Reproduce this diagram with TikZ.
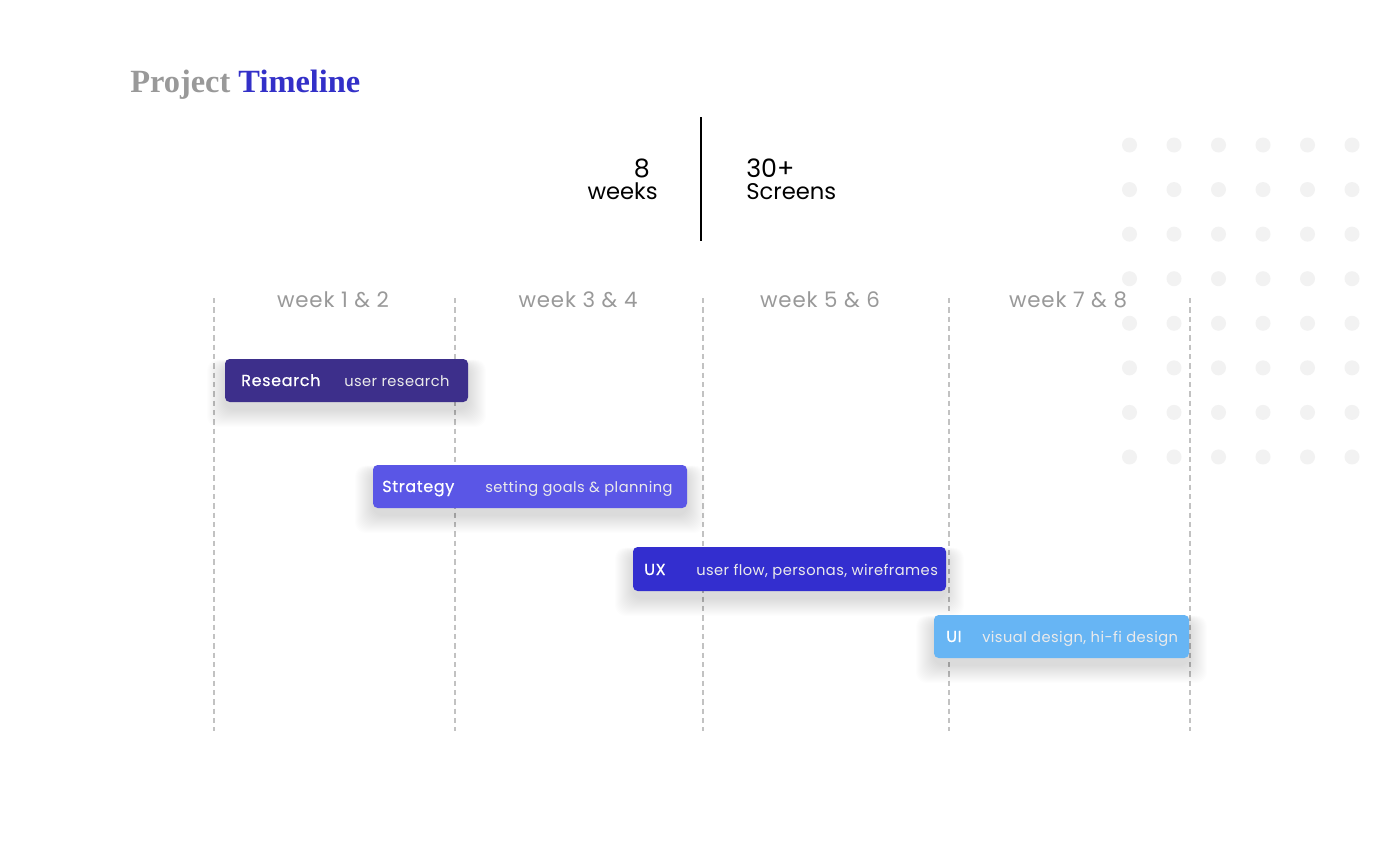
\documentclass[tikz,border=0pt]{standalone}
\usepackage{fontspec}
\setmainfont{Poppins}
\newfontfamily\titlefont{Liberation Serif}
\definecolor{research}{HTML}{3D2F8B}
\definecolor{strategy}{HTML}{5A56E6}
\definecolor{uxc}{HTML}{332ECF}
\definecolor{uic}{HTML}{67B5F4}
\definecolor{greylabel}{HTML}{999999}
\definecolor{dotc}{HTML}{F2F2F2}
\definecolor{dashc}{HTML}{C2C2C2}
\definecolor{titleblue}{HTML}{3330C8}
\newcommand{\tlshadow}[4]{%
  \foreach \k in {1,...,18}{%
    \fill[black,opacity=0.0085,rounded corners=8pt] (#1-\k,#2+6-0.3*\k) rectangle (#3+\k,#4+7+\k);
  }}
\tikzset{
  weekline/.style={draw=dashc,line width=2.1pt,dash pattern=on 4pt off 3pt},
  weeklabel/.style={anchor=base,inner sep=0pt,text=greylabel,font=\fontsize{16}{19}\selectfont\addfontfeatures{LetterSpace=4}},
  barbox/.style={rounded corners=3.5pt,draw=none},
  bartitle/.style={anchor=base west,inner sep=0pt,text=white,font=\fontsize{12}{14}\selectfont\addfontfeatures{LetterSpace=4,FakeBold=0.5}},
  bardesc/.style={anchor=base west,inner sep=0pt,text=white!92!black,font=\fontsize{11}{13}\selectfont\addfontfeatures{LetterSpace=3}},
  statnum/.style={inner sep=0pt,text depth=0pt,font=\fontsize{19}{22}\selectfont},
  stattxt/.style={inner sep=0pt,font=\fontsize{17}{20}\selectfont},
}
\begin{document}
\begin{tikzpicture}[x=0.75pt,y=-0.75pt]
\useasboundingbox[fill=white] (0,0) rectangle (1400,846);
% dot grid
\foreach \i in {0,...,5}{\foreach \j in {0,...,7}{%
  \fill[dotc] (1129.5+44.5*\i,145+44.57*\j) circle (7.5);}}
% title
\node[anchor=base west,inner sep=0pt,font=\titlefont\bfseries\fontsize{24.3}{28}\selectfont] (title) at (130,92)
  {\textcolor{greylabel}{Project} \textcolor{titleblue}{Timeline}};
% stats
\coordinate (sepT) at (701,117);
\coordinate (sepB) at (701,241);
\draw[black,line width=0.8pt] (sepT) -- (sepB);
\node[statnum,anchor=base east] (eight) at (650,177) {8};
\node[stattxt,anchor=base east] (weeks) at (658,199) {weeks};
\node[statnum,anchor=base west] (thirty) at (746,177) {30+};
\node[stattxt,anchor=base west] (screens) at (746,199) {Screens};
% week labels
\node[weeklabel] (w12) at (333,307) {week 1 \& 2};
\node[weeklabel] (w34) at (578,307) {week 3 \& 4};
\node[weeklabel] (w56) at (820,307) {week 5 \& 6};
\node[weeklabel] (w78) at (1068,307) {week 7 \& 8};
% dashed week lines
\foreach \xx/\nm in {214/a,455/b,703/c,949/d,1190/e}{%
  \coordinate (top\nm) at (\xx,298);
  \coordinate (bot\nm) at (\xx,731);
  \draw[weekline] (top\nm) -- (bot\nm);}
% Research
\tlshadow{225}{359}{468}{402}
\fill[research,barbox] (225,359) rectangle (468,402);
\node[bartitle] (researchT) at (241,386) {Research};
\node[bardesc] (researchD) at (344,386) {user research};
% Strategy
\tlshadow{373}{465}{687}{508}
\fill[strategy,barbox] (373,465) rectangle (687,508);
\node[bartitle] (strategyT) at (382,492) {Strategy};
\node[bardesc] (strategyD) at (485,492) {setting goals \& planning};
% UX
\tlshadow{633}{547}{946}{591}
\fill[uxc,barbox] (633,547) rectangle (946,591);
\node[bartitle] (uxT) at (644,575) {UX};
\node[bardesc] (uxD) at (696,575) {user flow, personas, wireframes};
% UI
\tlshadow{934}{615}{1189}{658}
\fill[uic,barbox] (934,615) rectangle (1189,658);
\node[bartitle] (uiT) at (946,642) {UI};
\node[bardesc] (uiD) at (982,642) {visual design, hi-fi design};
\end{tikzpicture}
\end{document}
